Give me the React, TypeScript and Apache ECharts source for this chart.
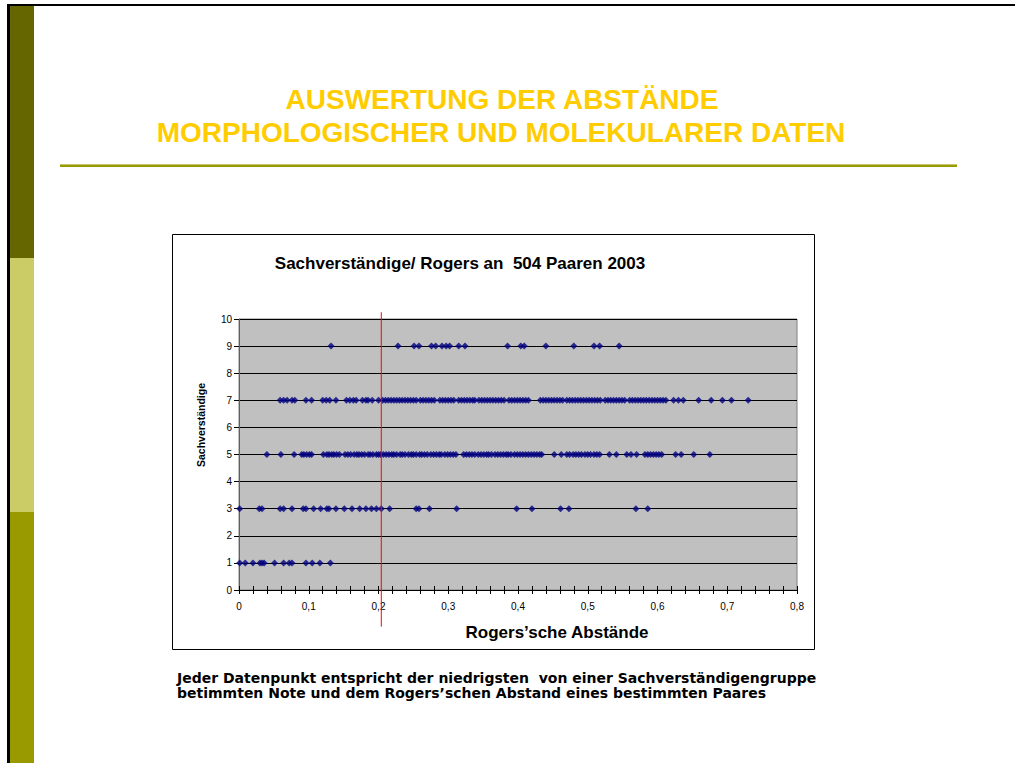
import React, { useEffect, useRef } from "react";
import * as echarts from "echarts";

const slideTitle = ["AUSWERTUNG DER ABSTÄNDE", "MORPHOLOGISCHER UND MOLEKULARER DATEN"];
const chartTitle = "Sachverständige/ Rogers an  504 Paaren 2003";
const xAxisTitle = "Rogers’sche Abstände";
const yAxisTitle = "Sachverständige";
const footnote = [
  "Jeder Datenpunkt entspricht der niedrigsten  von einer Sachverständigengruppe",
  "betimmten Note und dem Rogers’schen Abstand eines bestimmten Paares",
];

const xMin = 0;
const xMax = 0.8;
const yMin = 0;
const yMax = 10;
const thresholdX = 0.204;

const row1 = [0.001, 0.009, 0.02, 0.03, 0.033, 0.036, 0.051, 0.064, 0.072, 0.076, 0.096, 0.105, 0.116, 0.131];
const row3 = [0.001, 0.029, 0.033, 0.059, 0.064, 0.076, 0.092, 0.096, 0.107, 0.117, 0.126, 0.129, 0.139, 0.151, 0.162, 0.173, 0.182, 0.19, 0.197, 0.204, 0.216, 0.254, 0.258, 0.273, 0.312, 0.398, 0.42, 0.461, 0.473, 0.569, 0.586];
const row5 = [0.04, 0.06, 0.079, 0.09, 0.093, 0.097, 0.101, 0.104, 0.121, 0.126, 0.129, 0.133, 0.136, 0.14, 0.144,
  0.152, 0.156, 0.16, 0.165, 0.169, 0.172, 0.176, 0.18, 0.185, 0.188, 0.192, 0.197, 0.2, 0.203, 0.207, 0.211, 0.215, 0.219, 0.222, 0.226, 0.231, 0.234, 0.238, 0.243, 0.247, 0.25, 0.254, 0.259, 0.262, 0.266, 0.27, 0.275, 0.279, 0.283, 0.287, 0.29, 0.295, 0.299, 0.303, 0.307, 0.311,
  0.322, 0.326, 0.33, 0.334, 0.338, 0.343, 0.347, 0.351, 0.355, 0.358, 0.362, 0.367, 0.371, 0.375, 0.379, 0.383, 0.386, 0.39, 0.395, 0.399, 0.403, 0.407, 0.411, 0.415, 0.419, 0.423, 0.427, 0.431,
  0.434, 0.452, 0.462, 0.47, 0.474, 0.479, 0.483, 0.487, 0.491, 0.496, 0.5, 0.504, 0.509, 0.513, 0.517, 0.531, 0.541, 0.556, 0.562, 0.57, 0.582, 0.586, 0.59, 0.594, 0.598, 0.602, 0.606, 0.626, 0.634, 0.652, 0.675];
const row7 = [0.059, 0.064, 0.069, 0.076, 0.08, 0.096, 0.104, 0.12, 0.125, 0.13, 0.139, 0.154, 0.159, 0.164, 0.168, 0.177, 0.182, 0.185, 0.191, 0.2,
  0.206, 0.21, 0.214, 0.218, 0.222, 0.226, 0.23, 0.234, 0.238, 0.242, 0.246, 0.25, 0.254, 0.26, 0.264, 0.268, 0.272, 0.276, 0.28, 0.288, 0.292, 0.296, 0.3, 0.304, 0.308, 0.315, 0.319, 0.323, 0.327, 0.331, 0.335, 0.338, 0.344, 0.348, 0.352, 0.356, 0.36, 0.364, 0.368, 0.372, 0.376, 0.38, 0.387, 0.391, 0.395, 0.399, 0.403, 0.407, 0.411, 0.415,
  0.432, 0.436, 0.44, 0.444, 0.448, 0.452, 0.456, 0.46, 0.464, 0.47, 0.474, 0.478, 0.482, 0.486, 0.49, 0.494, 0.498, 0.502, 0.506, 0.51, 0.514, 0.518, 0.525, 0.529, 0.533, 0.537, 0.541, 0.545, 0.549, 0.553, 0.56, 0.564, 0.568, 0.572, 0.576, 0.58, 0.584, 0.588, 0.592, 0.596, 0.6, 0.604, 0.608, 0.612,
  0.623, 0.63, 0.637, 0.659, 0.677, 0.693, 0.706, 0.73];
const row9 = [0.132, 0.228, 0.251, 0.258, 0.276, 0.282, 0.291, 0.297, 0.302, 0.315, 0.324, 0.385, 0.404, 0.409, 0.44, 0.48, 0.509, 0.517, 0.545];

const rows: [number, number[]][] = [[1, row1], [3, row3], [5, row5], [7, row7], [9, row9]];

const W = 1015;
const H = 763;
const FONT = "'Liberation Sans', Arial, sans-serif";
const NOTE_FONT = "'DejaVu Sans', Verdana, sans-serif";

export default function App() {
  const ref = useRef<HTMLDivElement>(null);
  useEffect(() => {
    if (!ref.current) return;
    const chart = echarts.init(ref.current, null, { renderer: "svg", width: W, height: H });
    const data: [number, number][] = [];
    rows.forEach(([y, xs]) => xs.forEach((x) => data.push([x, y])));

    const xAxisBase = {
      type: "value" as const,
      min: xMin,
      max: xMax,
      interval: 0.02,
      splitLine: { show: false },
      axisLine: { show: true, onZero: false, lineStyle: { color: "#000", width: 1 } },
    };

    chart.setOption({
      animation: false,
      backgroundColor: "#ffffff",
      grid: {
        left: 239,
        right: W - 797,
        top: 319,
        bottom: H - 590,
        show: true,
        backgroundColor: "#C0C0C0",
        borderColor: "#808080",
        borderWidth: 1,
      },
      xAxis: [
        {
          ...xAxisBase,
          axisTick: { show: true, inside: false, length: 4, lineStyle: { color: "#000" } },
          axisLabel: {
            show: true,
            margin: 11,
            fontSize: 10,
            color: "#000",
            fontFamily: FONT,
            formatter: (v: number) => {
              const t = Math.round(v * 100);
              if (t % 10 !== 0) return "";
              return t === 0 ? "0" : (t / 100).toFixed(1).replace(".", ",");
            },
          },
        },
        {
          ...xAxisBase,
          position: "bottom",
          axisTick: { show: true, inside: true, length: 4, lineStyle: { color: "#000" } },
          axisLabel: { show: false },
        },
      ],
      yAxis: {
        type: "value",
        min: yMin,
        max: yMax,
        interval: 1,
        axisLine: { show: true, lineStyle: { color: "#606060", width: 1 } },
        axisTick: { show: true, length: 5, lineStyle: { color: "#000" } },
        axisLabel: { fontSize: 10, color: "#000", margin: 7, fontFamily: FONT },
        splitLine: { show: true, lineStyle: { color: "#000", width: 1 } },
      },
      series: [
        {
          type: "scatter",
          data,
          symbol: "diamond",
          symbolSize: [7, 7],
          itemStyle: { color: "#000080" },
        },
      ],
    });

    const top = chart.convertToPixel({ gridIndex: 0 }, [thresholdX, 10.25]);
    const bot = chart.convertToPixel({ gridIndex: 0 }, [thresholdX, -1.35]);

    chart.setOption({
      graphic: [
        // slide frame
        { type: "rect", shape: { x: 7, y: 4, width: W, height: 2 }, style: { fill: "#000" }, z: 10 },
        { type: "rect", shape: { x: 7, y: 4, width: 3, height: H }, style: { fill: "#000" }, z: 10 },
        { type: "rect", shape: { x: 10, y: 6, width: 24, height: 252 }, style: { fill: "#666600" }, z: 10 },
        { type: "rect", shape: { x: 10, y: 258, width: 24, height: 254 }, style: { fill: "#CCCC66" }, z: 10 },
        { type: "rect", shape: { x: 10, y: 512, width: 24, height: H - 512 }, style: { fill: "#999900" }, z: 10 },
        // slide title
        {
          type: "text", x: 502, y: 99, z: 10,
          style: { text: slideTitle[0], fill: "#FFCC00", font: `bold 28px ${FONT}`, align: "center", verticalAlign: "middle" },
        },
        {
          type: "text", x: 501, y: 132, z: 10,
          style: { text: slideTitle[1], fill: "#FFCC00", font: `bold 28px ${FONT}`, align: "center", verticalAlign: "middle" },
        },
        { type: "rect", shape: { x: 60, y: 164, width: 897, height: 1 }, style: { fill: "#C8C870" }, z: 10 },
        { type: "rect", shape: { x: 60, y: 165, width: 897, height: 2 }, style: { fill: "#999900" }, z: 10 },
        // chart box
        {
          type: "rect", shape: { x: 172.5, y: 234.5, width: 642, height: 415 }, z: -10,
          style: { fill: "#fff", stroke: "#000", lineWidth: 1 },
        },
        {
          type: "text", x: 460, y: 263, z: 10,
          style: { text: chartTitle, fill: "#000", font: `bold 17px ${FONT}`, align: "center", verticalAlign: "middle" },
        },
        {
          type: "text", x: 557, y: 632, z: 10,
          style: { text: xAxisTitle, fill: "#000", font: `bold 17px ${FONT}`, align: "center", verticalAlign: "middle" },
        },
        {
          type: "text", x: 201, y: 425, rotation: Math.PI / 2, z: 10,
          style: { text: yAxisTitle, fill: "#000", font: `bold 10.5px ${FONT}`, align: "center", verticalAlign: "middle" },
        },
        // threshold line
        {
          type: "line", z: 20,
          shape: { x1: top[0], y1: top[1], x2: bot[0], y2: bot[1] },
          style: { stroke: "#FF0000", lineWidth: 1 },
        },
        // footnote
        {
          type: "text", x: 177, y: 678, z: 10,
          style: { text: footnote[0], fill: "#000", font: `bold 14px ${NOTE_FONT}`, align: "left", verticalAlign: "middle" },
        },
        {
          type: "text", x: 177, y: 693, z: 10,
          style: { text: footnote[1], fill: "#000", font: `bold 14px ${NOTE_FONT}`, align: "left", verticalAlign: "middle" },
        },
      ],
    });

    return () => chart.dispose();
  }, []);
  return <div ref={ref} style={{ position: "fixed", left: 0, top: 0, width: W, height: H }} />;
}
